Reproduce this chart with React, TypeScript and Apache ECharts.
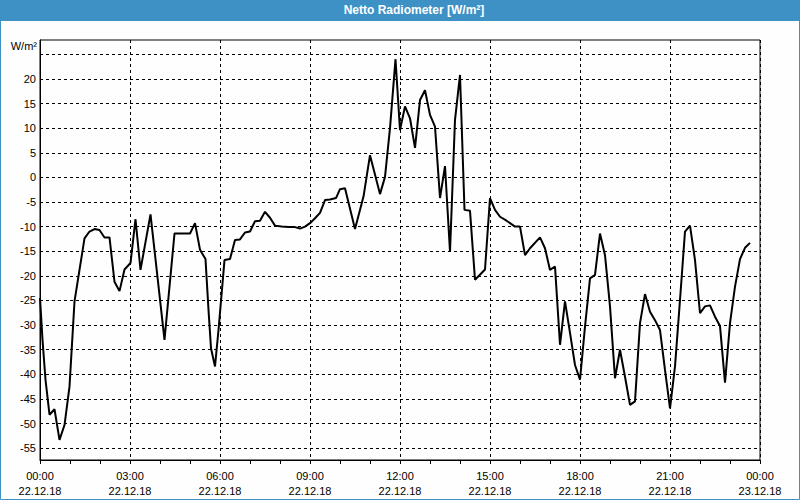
import React, { useEffect, useRef } from "react";
import * as echarts from "echarts";

// minutes after 22.12.18 00:00
const times: number[] = [
  0, 5, 11, 19, 29, 39, 49, 59, 69, 79, 89, 99, 109, 119, 129, 139, 149, 159, 169, 181,
  191, 201, 221, 249, 269, 300, 310, 320, 331, 337, 342, 350, 357, 369, 380, 390, 400, 410, 420, 430,
  440, 450, 460, 470, 483, 497, 510, 520, 530, 540, 550, 560, 570, 580, 592, 600, 610, 630, 647, 660,
  680, 690, 700, 711, 720, 730, 740, 750, 760, 770, 780, 790, 800, 810, 820, 830, 840, 849, 860, 870,
  890, 900, 910, 920, 933, 950, 960, 970, 980, 1000, 1010, 1020, 1030, 1040, 1050, 1060, 1070, 1080, 1090, 1100,
  1110, 1120, 1130, 1140, 1150, 1160, 1170, 1180, 1190, 1200, 1210, 1220, 1230, 1240, 1250, 1260, 1270, 1280, 1290, 1300,
  1310, 1320, 1330, 1340, 1350, 1360, 1370, 1380, 1390, 1400, 1410, 1420,
];
const values: number[] = [
  -24.5, -33.0, -41.1, -48.2, -47.1, -53.3, -50.3, -42.5, -25.2, -18.8, -12.4, -11.0, -10.5, -10.7, -12.2, -12.2, -21.2, -23.1, -18.7, -17.4,
  -8.5, -18.8, -7.5, -33.0, -11.4, -11.4, -9.3, -14.7, -16.6, -26.9, -34.7, -38.4, -31.0, -16.8, -16.6, -12.7, -12.6, -11.2, -11.0, -8.9,
  -8.8, -7.0, -8.2, -9.8, -10.0, -10.1, -10.1, -10.4, -10.0, -9.3, -8.3, -7.2, -4.6, -4.5, -4.2, -2.4, -2.2, -10.5, -3.9, 4.5,
  -3.4, 0.1, 10.0, 24.0, 9.6, 14.4, 12.0, 6.0, 15.7, 17.7, 12.7, 10.3, -4.2, 2.3, -15.1, 11.7, 20.8, -6.6, -6.8, -20.8,
  -18.7, -4.2, -6.6, -8.0, -8.8, -10.0, -10.0, -15.8, -14.4, -12.2, -14.4, -18.8, -18.1, -34.0, -25.2, -31.6, -38.1, -41.1, -30.3, -20.5,
  -19.8, -11.4, -15.8, -26.2, -40.8, -35.0, -40.5, -46.2, -45.5, -29.6, -23.7, -27.3, -29.0, -31.0, -39.1, -46.9, -38.4, -24.9, -11.0, -9.8,
  -16.8, -27.6, -26.2, -26.0, -28.3, -30.2, -41.7, -29.6, -22.2, -16.6, -14.3, -13.3,
];
const yTickLabels: number[] = [-55, -50, -45, -40, -35, -30, -25, -20, -15, -10, -5, 0, 5, 10, 15, 20];
const yGridValues: number[] = [-55, -50, -45, -40, -35, -30, -25, -20, -15, -10, -5, 0, 5, 10, 15, 20, 25];
const title = "Netto Radiometer [W/m²]";
const unit = "W/m²";

const FONT = "'Liberation Sans', Arial, sans-serif";

function fmtX(v: number): string {
  const h = Math.floor(v / 60) % 24;
  const m = Math.round(v % 60);
  const day = v >= 1440 ? "23.12.18" : "22.12.18";
  return `${String(h).padStart(2, "0")}:${String(m).padStart(2, "0")}\n${day}`;
}

export default function App() {
  const ref = useRef<HTMLDivElement>(null);
  useEffect(() => {
    if (!ref.current) return;
    const chart = echarts.init(ref.current, null, { renderer: "svg" });
    chart.setOption({
      animation: false,
      backgroundColor: "#fdfefd",
      textStyle: { fontFamily: FONT },
      grid: { left: 40, right: 40, top: 40, bottom: 40, show: true, borderColor: "#000", borderWidth: 1 },
      graphic: [
        { type: "rect", shape: { x: 0, y: 0, width: 800, height: 21 }, style: { fill: "#3d91c5" }, silent: true },
        { type: "rect", shape: { x: 0.5, y: 0.5, width: 799, height: 499 }, style: { fill: "none", stroke: "#3d91c5", lineWidth: 1 }, silent: true },
        {
          type: "text", x: 414, y: 10,
          style: { text: title, fill: "#fff", font: `bold 12px ${FONT}`, textAlign: "center", textVerticalAlign: "middle" },
        },
        {
          type: "text", x: 37, y: 46,
          style: { text: unit, fill: "#000", font: `11px ${FONT}`, textAlign: "right", textVerticalAlign: "middle" },
        },
      ],
      xAxis: {
        type: "value",
        min: 0,
        max: 1440,
        interval: 180,
        axisLine: { show: true, onZero: false, lineStyle: { color: "#000", width: 1 } },
        axisTick: { show: true, length: 4, lineStyle: { color: "#000" } },
        minorTick: { show: true, splitNumber: 3, length: 4, lineStyle: { color: "#000" } },
        splitLine: { show: true, lineStyle: { color: "#000", type: [3, 3], width: 1 } },
        axisLabel: { formatter: fmtX, color: "#000", fontSize: 11, lineHeight: 15, margin: 8, fontFamily: FONT },
      },
      yAxis: {
        type: "value",
        min: -57.4,
        max: 27.9,
        axisLine: { show: true, onZero: false, lineStyle: { color: "#000", width: 1 } },
        axisTick: { show: false },
        splitLine: { show: false },
        axisLabel: { customValues: yTickLabels, color: "#000", fontSize: 11, margin: 4, fontFamily: FONT },
      },
      series: [
        {
          type: "line",
          data: times.map((t, i) => [t, values[i]]),
          showSymbol: false,
          symbol: "none",
          lineStyle: { color: "#000", width: 2 },
          z: 3,
          markLine: {
            silent: true,
            symbol: "none",
            label: { show: false },
            lineStyle: { color: "#000", type: [3, 3], width: 1 },
            data: yGridValues.map((v) => ({ yAxis: v })),
            z: 1,
          },
        },
      ],
    });
    return () => chart.dispose();
  }, []);
  return <div ref={ref} style={{ position: "fixed", left: 0, top: 0, width: 800, height: 500 }} />;
}
